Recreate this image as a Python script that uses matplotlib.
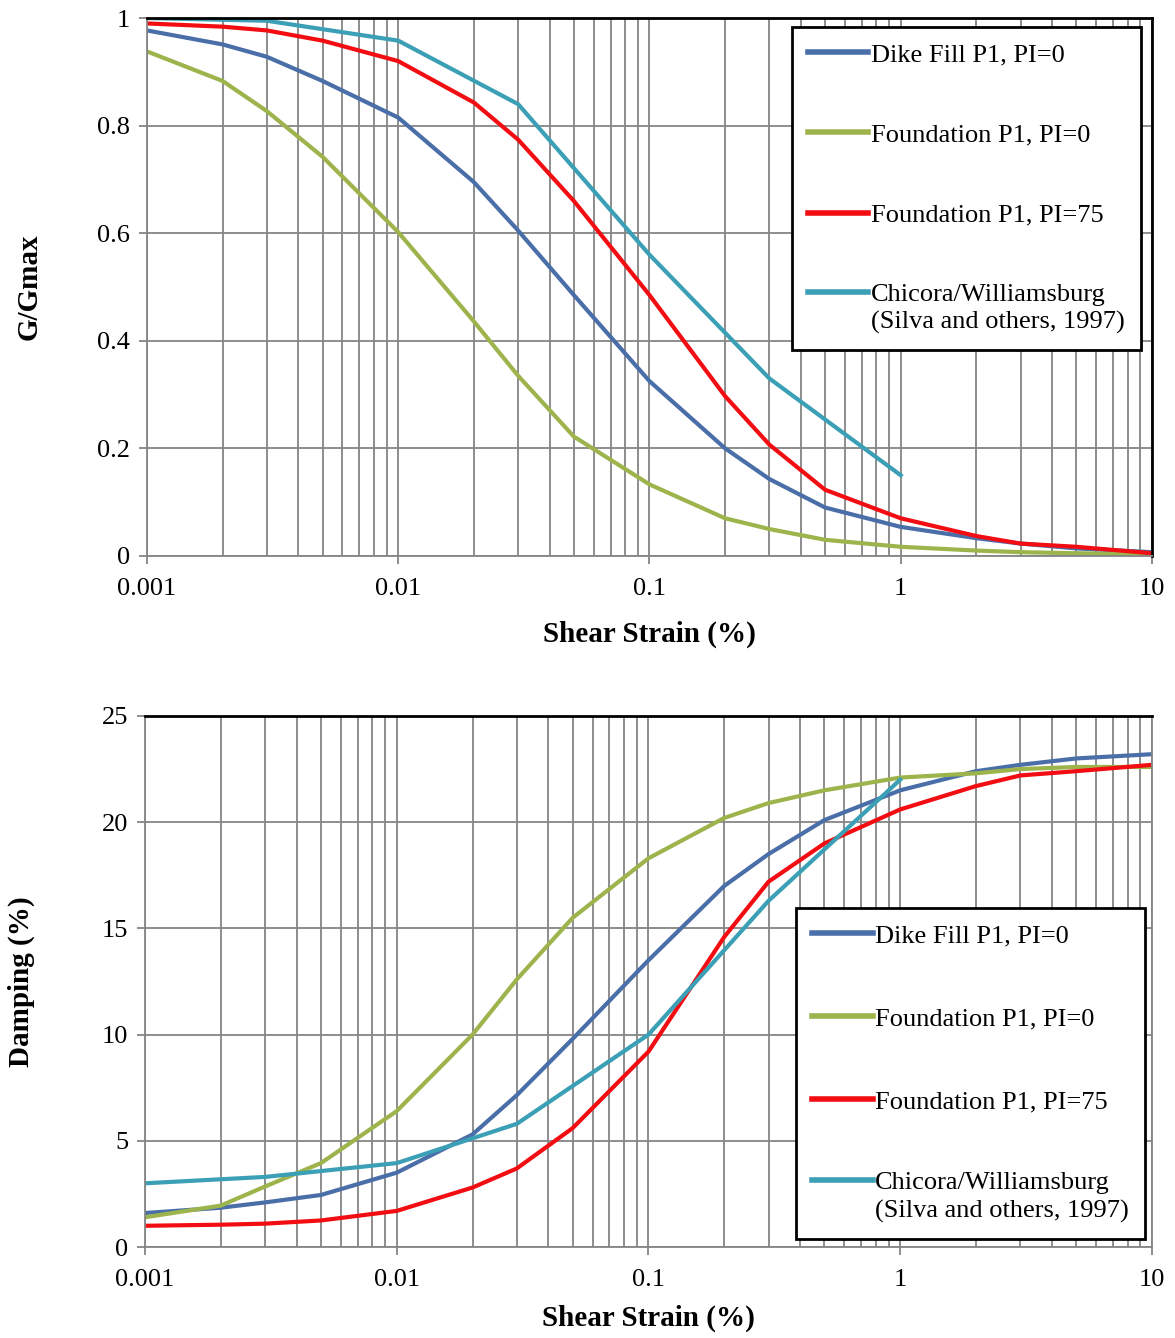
import matplotlib
matplotlib.use("Agg")
import matplotlib.pyplot as plt
import numpy as np
from matplotlib.ticker import FixedLocator, LogLocator, FuncFormatter, NullFormatter

# ------------------------------------------------------------
# Data: modulus reduction and damping curves
# ------------------------------------------------------------

strain = [0.001, 0.002, 0.003, 0.005, 0.01, 0.02, 0.03, 0.05,
          0.1, 0.2, 0.3, 0.5, 1, 2, 3, 5, 10]

dike_g = [0.977, 0.951, 0.928, 0.883, 0.815, 0.695, 0.605, 0.485,
          0.325, 0.200, 0.143, 0.090, 0.054, 0.033, 0.023, 0.014, 0.007]
found0_g = [0.938, 0.883, 0.827, 0.742, 0.602, 0.436, 0.335, 0.222,
            0.133, 0.070, 0.050, 0.030, 0.017, 0.010, 0.007, 0.005, 0.003]
found75_g = [0.990, 0.984, 0.977, 0.958, 0.920, 0.843, 0.774, 0.660,
             0.485, 0.297, 0.207, 0.123, 0.070, 0.037, 0.023, 0.017, 0.005]

dike_d = [1.6, 1.85, 2.1, 2.45, 3.5, 5.3, 7.15, 9.8,
          13.5, 17.0, 18.5, 20.1, 21.5, 22.4, 22.7, 23.0, 23.2]
found0_d = [1.4, 1.95, 2.85, 3.95, 6.4, 10.0, 12.6, 15.5,
            18.3, 20.2, 20.9, 21.5, 22.1, 22.3, 22.5, 22.6, 22.6]
found75_d = [1.0, 1.05, 1.1, 1.25, 1.7, 2.8, 3.7, 5.6,
             9.2, 14.6, 17.2, 19.0, 20.6, 21.7, 22.2, 22.4, 22.7]

silva_strain = [0.001, 0.003, 0.01, 0.03, 0.1, 0.3, 1]
silva_g = [1.0, 0.995, 0.958, 0.84, 0.56, 0.33, 0.15]
silva_d = [3.0, 3.3, 3.95, 5.8, 10.0, 16.3, 22.0]

labels = [
    "Dike Fill P1, PI=0",
    "Foundation P1, PI=0",
    "Foundation P1, PI=75",
    "Chicora/Williamsburg\n(Silva and others, 1997)",
]
colors = ["#4a6fa8", "#9db44c", "#f20d12", "#3b9fb6"]

x_ticks = [0.001, 0.01, 0.1, 1, 10]
g_ticks = [0, 0.2, 0.4, 0.6, 0.8, 1]
d_ticks = [0, 5, 10, 15, 20, 25]

GRID = "#858585"
LEG_SIZE = 19

plt.rcParams["font.family"] = ["Liberation Serif", "DejaVu Serif"]


def style_axes(ax, yticks, ylabel, right_color, xpad):
    ax.set_xscale("log")
    ax.set_xlim(0.001, 10)
    ax.set_ylim(yticks[0], yticks[-1])

    ax.xaxis.set_major_locator(FixedLocator(x_ticks))
    ax.xaxis.set_minor_locator(LogLocator(base=10, subs=range(2, 10)))
    ax.xaxis.set_major_formatter(FuncFormatter(lambda v, p: f"{v:g}"))
    ax.xaxis.set_minor_formatter(NullFormatter())
    ax.yaxis.set_major_locator(FixedLocator(yticks))
    ax.yaxis.set_major_formatter(FuncFormatter(lambda v, p: f"{v:g}"))

    ax.grid(True, which="both", axis="x", color=GRID, linewidth=1.3)
    ax.grid(True, which="major", axis="y", color=GRID, linewidth=1.3)
    ax.set_axisbelow(True)

    ax.tick_params(axis="both", which="major", direction="out", length=6,
                   width=1.3, color=GRID, labelsize=19)
    ax.tick_params(axis="x", which="major", pad=10)
    ax.tick_params(axis="y", which="major", pad=6)
    ax.tick_params(axis="x", which="minor", length=0)

    ax.spines["left"].set_color(GRID)
    ax.spines["bottom"].set_color(GRID)
    ax.spines["left"].set_linewidth(1.3)
    ax.spines["bottom"].set_linewidth(1.3)
    ax.spines["top"].set_color("black")
    ax.spines["top"].set_linewidth(2)
    ax.spines["right"].set_color(right_color)
    ax.spines["right"].set_linewidth(2 if right_color == "black" else 1.3)

    ax.set_xlabel("Shear Strain (%)", fontsize=21, fontweight="bold", labelpad=xpad)
    ax.set_ylabel(ylabel, fontsize=21, fontweight="bold")


def add_legend(ax, bbox, spacing):
    leg = ax.legend(
        loc="upper right",
        bbox_to_anchor=bbox,
        fontsize=LEG_SIZE,
        frameon=True,
        fancybox=False,
        framealpha=1,
        edgecolor="black",
        handlelength=2.3,
        handletextpad=0.1,
        labelspacing=spacing,
        borderpad=0.6,
        borderaxespad=0,
    )
    leg.get_frame().set_linewidth(2)
    for h in leg.legend_handles:
        h.set_linewidth(4)
    leg.get_texts()[-1].set_linespacing(1.3)
    # put the two-line entry's handle beside its first line
    last = leg.legend_handles[-1]
    last.set_ydata(np.asarray(last.get_ydata()) + 0.62 * LEG_SIZE)
    return leg


fig = plt.figure(figsize=(11.75, 13.38), dpi=100)

# ------------------------------------------------------------
# G/Gmax
# ------------------------------------------------------------

ax1 = fig.add_axes([0.1251, 0.5845, 0.8553, 0.4020])

ax1.plot(strain, dike_g, color=colors[0], lw=3, label=labels[0])
ax1.plot(strain, found0_g, color=colors[1], lw=3, label=labels[1])
ax1.plot(strain, found75_g, color=colors[2], lw=3, label=labels[2])
ax1.plot(silva_strain, silva_g, color=colors[3], lw=3, label=labels[3])

style_axes(ax1, g_ticks, "G/Gmax", "black", 15)
ax1.yaxis.set_label_coords(-0.104, 0.5)
add_legend(ax1, (0.9886, 0.9833), 2.15)

# ------------------------------------------------------------
# Damping
# ------------------------------------------------------------

ax2 = fig.add_axes([0.1234, 0.0680, 0.8570, 0.3969])

ax2.plot(strain, dike_d, color=colors[0], lw=3, label=labels[0])
ax2.plot(strain, found0_d, color=colors[1], lw=3, label=labels[1])
ax2.plot(strain, found75_d, color=colors[2], lw=3, label=labels[2])
ax2.plot(silva_strain, silva_d, color=colors[3], lw=3, label=labels[3])

style_axes(ax2, d_ticks, "Damping (%)", GRID, 10)
ax2.yaxis.set_label_coords(-0.109, 0.5)
add_legend(ax2, (0.9930, 0.6384), 2.25)

fig.savefig("out.png", dpi=100)
